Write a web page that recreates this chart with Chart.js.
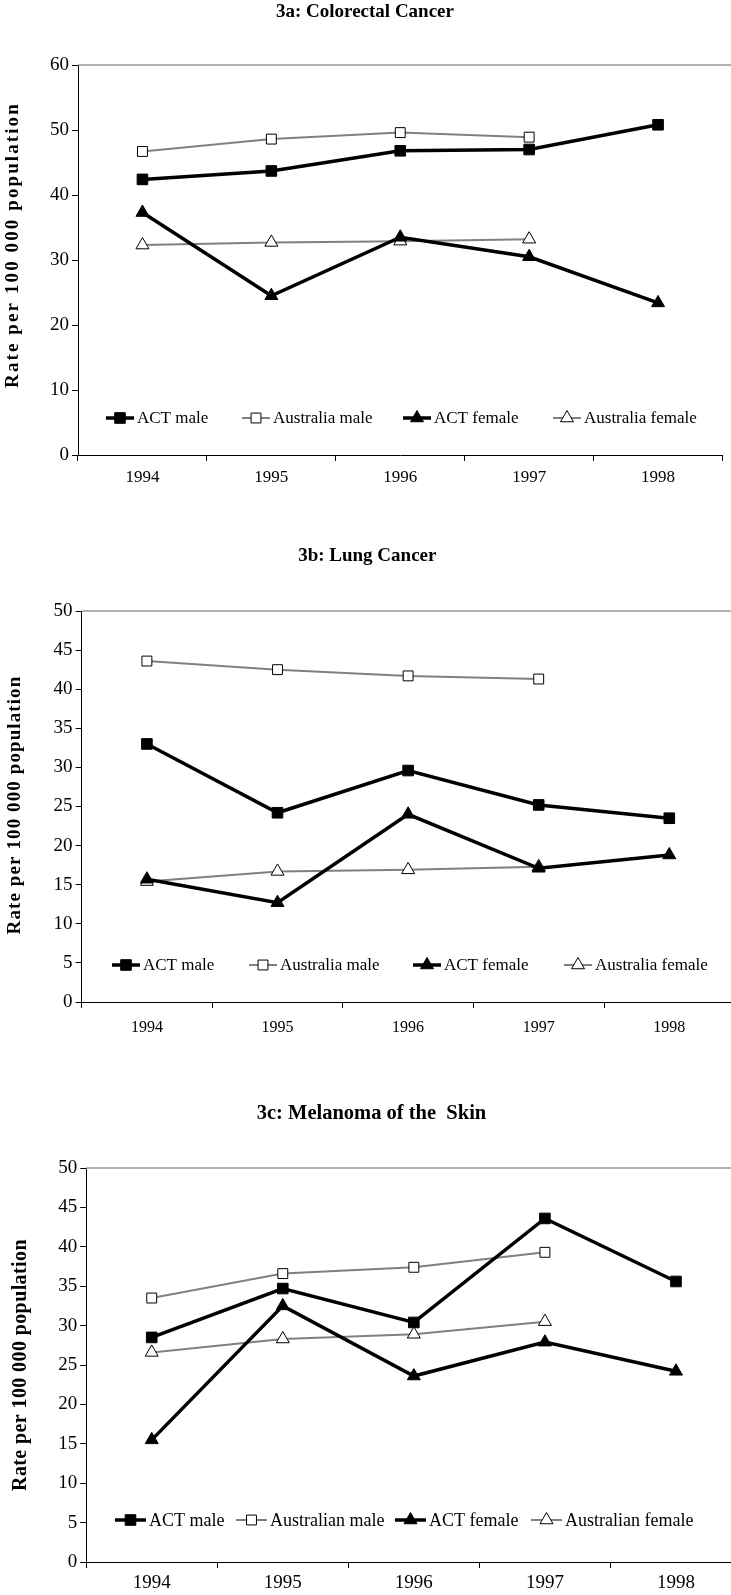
<!DOCTYPE html>
<html>
<head>
<meta charset="utf-8">
<script src="https://cdn.jsdelivr.net/npm/chart.js@4.4.0/dist/chart.umd.min.js"></script>
<style>
html, body { margin: 0; padding: 0; background: #fff; overflow: hidden; width: 731px; height: 1595px; }
canvas { position: absolute; left: 0; }
</style>
</head>
<body>
<canvas id="c1" width="731" height="500" style="top:0px"></canvas>
<canvas id="c2" width="745" height="500" style="top:540px"></canvas>
<canvas id="c3" width="750" height="505" style="top:1090px"></canvas>
<script>
var years = ["1994", "1995", "1996", "1997", "1998"];

// 3a colorectal
var colActMale = [42.4, 43.7, 46.8, 47.0, 50.8];
var colAusMale = [46.7, 48.6, 49.6, 48.9, null];
var colActFemale = [37.3, 24.5, 33.5, 30.5, 23.4];
var colAusFemale = [32.3, 32.7, 32.9, 33.2, null];

// 3b lung
var lungActMale = [33.0, 24.2, 29.6, 25.2, 23.5];
var lungAusMale = [43.6, 42.5, 41.7, 41.3, null];
var lungActFemale = [15.7, 12.7, 24.0, 17.1, 18.8];
var lungAusFemale = [15.4, 16.7, 16.9, 17.3, null];

// 3c melanoma
var melActMale = [28.5, 34.7, 30.4, 43.6, 35.6];
var melAusMale = [33.5, 36.6, 37.4, 39.3, null];
var melActFemale = [15.5, 32.5, 23.6, 27.9, 24.2];
var melAusFemale = [26.6, 28.3, 28.9, 30.5, null];

var serif = '"Liberation Serif", "Times New Roman", serif';

function makeSets(names, a, b, c, d) {
  return [
    { label: names[0], data: a, borderColor: '#000', borderWidth: 3.5, pointStyle: 'rect', pointRadius: 7.5,
      pointBackgroundColor: '#000', pointBorderColor: '#000', pointBorderWidth: 1 },
    { label: names[1], data: b, borderColor: '#808080', borderWidth: 2, pointStyle: 'rect', pointRadius: 7,
      pointBackgroundColor: '#fff', pointBorderColor: '#000', pointBorderWidth: 1 },
    { label: names[2], data: c, borderColor: '#000', borderWidth: 3.5, pointStyle: 'triangle', pointRadius: 7.5,
      pointBackgroundColor: '#000', pointBorderColor: '#000', pointBorderWidth: 1 },
    { label: names[3], data: d, borderColor: '#808080', borderWidth: 2, pointStyle: 'triangle', pointRadius: 7.5,
      pointBackgroundColor: '#fff', pointBorderColor: '#000', pointBorderWidth: 1 }
  ];
}

function marker(ctx, style, x, y, r, fill) {
  ctx.beginPath();
  if (style === 'rect') {
    var s = Math.SQRT1_2 * r;
    ctx.rect(x - s, y - s, 2 * s, 2 * s);
  } else {
    ctx.moveTo(x, y - r);
    ctx.lineTo(x + Math.sin(2 * Math.PI / 3) * r, y - Math.cos(2 * Math.PI / 3) * r);
    ctx.lineTo(x + Math.sin(4 * Math.PI / 3) * r, y - Math.cos(4 * Math.PI / 3) * r);
    ctx.closePath();
  }
  ctx.fillStyle = fill;
  ctx.fill();
  ctx.lineWidth = 1;
  ctx.strokeStyle = '#000';
  ctx.stroke();
}

// legend inside the plot, plot top border, rotated y title
var extras = {
  id: 'extras',
  afterDraw: function (chart, args, o) {
    var ctx = chart.ctx, a = chart.chartArea;
    ctx.save();
    ctx.strokeStyle = '#999';
    ctx.lineWidth = 1.5;
    ctx.beginPath();
    ctx.moveTo(a.left, a.top);
    ctx.lineTo(a.right + 20, a.top);
    ctx.stroke();

    var ly = a.bottom - o.legendY;
    ctx.font = o.legendFont + 'px ' + serif;
    ctx.textBaseline = 'middle';
    ctx.textAlign = 'left';
    chart.data.datasets.forEach(function (ds, i) {
      var x0 = o.legendX[i];
      ctx.strokeStyle = ds.borderColor;
      ctx.lineWidth = ds.borderWidth;
      ctx.beginPath();
      ctx.moveTo(x0, ly);
      ctx.lineTo(x0 + o.sample, ly);
      ctx.stroke();
      marker(ctx, ds.pointStyle, x0 + o.sample / 2, ly, ds.pointRadius, ds.pointBackgroundColor);
      ctx.fillStyle = '#000';
      ctx.fillText(ds.label, x0 + o.sample + 3, ly + 1);
    });

    ctx.translate(o.titleX, o.titleY);
    ctx.rotate(-Math.PI / 2);
    ctx.letterSpacing = o.spacing + 'px';
    ctx.font = 'bold ' + o.titleFont + 'px ' + serif;
    ctx.textAlign = 'center';
    ctx.textBaseline = 'middle';
    ctx.fillStyle = '#000';
    ctx.fillText('Rate per 100 000 population', 0, 0);
    ctx.restore();
  }
};

function build(id, cfg) {
  new Chart(document.getElementById(id), {
    type: 'line',
    data: { labels: years, datasets: cfg.sets },
    options: {
      responsive: false,
      animation: false,
      layout: { padding: { top: 0, left: 0, right: cfg.padRight, bottom: 0 } },
      elements: { line: { tension: 0 } },
      plugins: {
        legend: { display: false },
        tooltip: { enabled: false },
        title: {
          display: true, text: cfg.title, color: '#000',
          font: { family: serif, size: cfg.titleSize, weight: 'bold' },
          padding: { top: cfg.titleTop, bottom: cfg.titleBottom }
        },
        extras: cfg.extras
      },
      scales: {
        x: {
          offset: true,
          grid: { display: true, offset: true, drawOnChartArea: false, tickLength: 6, color: '#000', tickColor: '#000' },
          border: { color: '#000', width: 1 },
          ticks: { color: '#000', font: { family: serif, size: cfg.xFont }, padding: cfg.xPad, maxRotation: 0 },
          afterFit: function (s) { s.height = cfg.xHeight; }
        },
        y: {
          min: 0, max: cfg.yMax,
          grid: { drawOnChartArea: false, tickLength: 6, color: '#000', tickColor: '#000' },
          border: { color: '#000', width: 1 },
          ticks: { stepSize: cfg.yStep, color: '#000', font: { family: serif, size: 19 }, padding: 3 },
          afterFit: function (s) { s.width = cfg.yWidth; }
        }
      }
    },
    plugins: [extras]
  });
}

build('c1', {
  title: '3a: Colorectal Cancer', titleSize: 19, titleTop: 1, titleBottom: 41.2,
  sets: makeSets(['ACT male', 'Australia male', 'ACT female', 'Australia female'], colActMale, colAusMale, colActFemale, colAusFemale),
  yMax: 60, yStep: 10, yWidth: 78, xHeight: 45, xFont: 17, xPad: 6, padRight: 1,
  extras: { legendX: [106, 242, 403, 553], legendY: 37, legendFont: 17, sample: 28,
            titleX: 13, titleY: 245, titleFont: 19, spacing: 2.1 }
});

build('c2', {
  title: '3b: Lung Cancer', titleSize: 19, titleTop: 4.6, titleBottom: 43.6,
  sets: makeSets(['ACT male', 'Australia male', 'ACT female', 'Australia female'], lungActMale, lungAusMale, lungActFemale, lungAusFemale),
  yMax: 50, yStep: 5, yWidth: 81.6, xHeight: 38, xFont: 16, xPad: 10, padRight: 10.4,
  extras: { legendX: [112, 249, 413, 564], legendY: 37, legendFont: 17, sample: 28,
            titleX: 15, titleY: 265, titleFont: 19, spacing: 1.1 }
});

build('c3', {
  title: '3c: Melanoma of the  Skin', titleSize: 20.5, titleTop: 11.7, titleBottom: 41.7,
  sets: makeSets(['ACT male', 'Australian male', 'ACT female', 'Australian female'], melActMale, melAusMale, melActFemale, melAusFemale),
  yMax: 50, yStep: 5, yWidth: 86.2, xHeight: 33, xFont: 19, xPad: 4, padRight: 7,
  extras: { legendX: [115, 236, 395, 531], legendY: 42, legendFont: 18, sample: 31,
            titleX: 21, titleY: 275, titleFont: 20, spacing: 0.4 }
});
</script>
</body>
</html>
